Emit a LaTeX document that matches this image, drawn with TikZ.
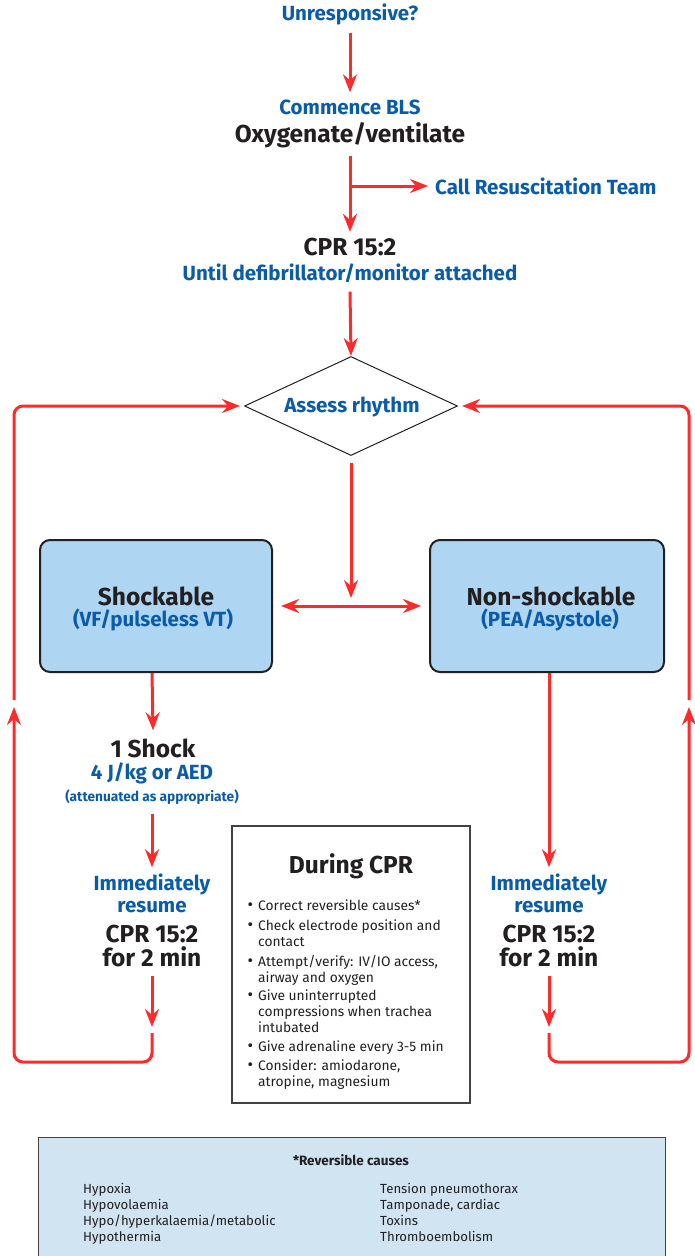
\documentclass[tikz,border=0pt]{standalone}
\usepackage{fontspec}
\setmainfont{Fira Sans}
\usetikzlibrary{arrows.meta,shapes.geometric}
\definecolor{flowred}{HTML}{FF2A2A}
\definecolor{flowblue}{HTML}{0B5CA8}
\definecolor{flowblack}{HTML}{231F20}
\definecolor{boxblue}{HTML}{AED5F2}
\definecolor{causeblue}{HTML}{D0E4F2}
\newcommand{\bluefont}{\bfseries\fontsize{20.5}{22}\selectfont}
\newcommand{\bigfont}{\bfseries\fontsize{24.5}{24}\selectfont}

\begin{document}
\begin{tikzpicture}[x=1pt, y=-1pt,
	>={Stealth[length=18pt, width=14pt, inset=6pt]},
	flow/.style={draw=flowred, line width=3pt},
	bluetxt/.style={text=flowblue, font=\bluefont, inner sep=0pt, align=center},
	bigtxt/.style={text=flowblack, font=\bigfont, inner sep=0pt, align=center},
	rhythmbox/.style={draw=flowblack, fill=boxblue, line width=2pt, rounded corners=10pt},
	itemtxt/.style={text=flowblack, font=\fontsize{13.8}{16}\selectfont, align=left, inner sep=0pt, anchor=north west}]
	\useasboundingbox (0,0) rectangle (695,1256);

	% top of the chart
	\node[bluetxt] (unresp) at (350,14) {Unresponsive?};
	\node[bluetxt] (bls) at (350,107) {Commence BLS};
	\node[bigtxt] (oxy) at (350,135) {Oxygenate/ventilate};
	\node[bluetxt, anchor=west] (team) at (435,186) {Call Resuscitation Team};
	\node[bigtxt] (cpr) at (350,247) {CPR 15:2};
	\node[bluetxt] (until) at (350,273) {Until defibrillator/monitor attached};

	\draw[flow, ->] ([yshift=-8pt]unresp.south) -- ([yshift=7pt]bls.north);
	\draw[flow, ->] ([yshift=-8pt]oxy.south) -- ([yshift=6pt]cpr.north);
	\draw[flow, ->] (351,186) -- ([xshift=-7pt]team.west);

	% assess rhythm
	\node[diamond, draw=flowblack, line width=1pt, minimum width=213pt, minimum height=99pt, inner sep=0pt] (rhythm) at (351,406) {};
	\node[bluetxt] at (352,407) {Assess rhythm};
	\draw[flow, ->] ([yshift=-9pt]until.south) -- (rhythm.north);

	\node[rhythmbox, minimum width=232pt, minimum height=132pt] (shock) at (156,606) {};
	\node[bigtxt] (shocktitle) at (156,596) {Shockable};
	\node[bluetxt] at (153,620) {(VF/pulseless VT)};
	\node[rhythmbox, minimum width=234pt, minimum height=132pt] (nonshock) at (547,606) {};
	\node[bigtxt] (nonshocktitle) at (551,596) {Non-shockable};
	\node[bluetxt] at (550,620) {(PEA/Asystole)};

	\coordinate (split) at (351,598);
	\draw[flow, ->] ([yshift=-7pt]rhythm.south) -- (split);
	\draw[flow, <->] ([xshift=8pt]shock.east) -- ([xshift=-8pt]nonshock.west);

	% shockable side
	\node[bigtxt] (oneshock) at (153,748) {1 Shock};
	\node[bluetxt] (joule) at (152,773) {4 J/kg or AED};
	\node[bluetxt, font=\bfseries\fontsize{13.7}{14}\selectfont] (atten) at (152,797) {(attenuated as appropriate)};
	\node[bluetxt] (resumeL) at (152,893) {Immediately\\resume};
	\node[bigtxt] (cprL) at (152,946) {CPR 15:2\\for 2 min};
	\coordinate (endL) at (152,1027);
	\coordinate (loopL) at (152,1033);
	\coordinate (upL) at (14,707);
	\coordinate (backL) at (14,700);

	\draw[flow, ->] (shock.south -| joule) -- ([yshift=8pt]oneshock.north);
	\draw[flow, ->] ([yshift=-9pt]atten.south) -- ([yshift=6pt]resumeL.north);
	\draw[flow, ->] ([yshift=-9pt]cprL.south) -- (endL);
	\draw[flow, ->, rounded corners=9pt] (loopL) -- (152,1062) -- (14,1062) -- (upL);
	\draw[flow, ->, rounded corners=9pt] (backL) -- (14,406) -- ([xshift=-4pt]rhythm.west);

	% non-shockable side
	\node[bluetxt] (resumeR) at (549,893) {Immediately\\resume};
	\node[bigtxt] (cprR) at (549,946) {CPR 15:2\\for 2 min};
	\coordinate (endR) at (549,1027);
	\coordinate (loopR) at (549,1033);
	\coordinate (upR) at (689,707);
	\coordinate (backR) at (689,700);

	\draw[flow, ->] (nonshock.south -| resumeR) -- ([yshift=6pt]resumeR.north);
	\draw[flow, ->] ([yshift=-9pt]cprR.south) -- (endR);
	\draw[flow, ->, rounded corners=9pt] (loopR) -- (549,1062) -- (689,1062) -- (upR);
	\draw[flow, ->, rounded corners=9pt] (backR) -- (689,406) -- ([xshift=4pt]rhythm.east);

	% during CPR
	\draw[draw=flowblack!85, line width=1.2pt] (232,826) rectangle (470,1103);
	\node[bigtxt] (during) at (351,866) {During CPR};
	\foreach \y/\txt [count=\i] in {
		900/Correct reversible causes*,
		920/{Check electrode position and\\contact},
		955/{Attempt/verify: IV/IO access,\\airway and oxygen},
		990/{Give uninterrupted\\compressions when trachea\\intubated},
		1041/Give adrenaline every 3-5 min,
		1060/{Consider: amiodarone,\\atropine, magnesium}}
		\node[itemtxt] (item\i) at (258,\y) {\llap{{\fontsize{17}{16}\selectfont\textbullet}\hspace{5pt}}\txt};

	% reversible causes
	\draw[draw=flowblack!85, fill=causeblue, line width=1pt] (38,1137) rectangle (665,1266);
	\node[text=flowblack, font=\bfseries\fontsize{13.5}{14}\selectfont] (causes) at (351,1160) {*Reversible causes};
	\node[itemtxt, font=\fontsize{13.2}{16}\selectfont] (hcauses) at (83,1183)
		{Hypoxia\\Hypovolaemia\\Hypo/hyperkalaemia/metabolic\\Hypothermia};
	\node[itemtxt, font=\fontsize{13.2}{16}\selectfont] (tcauses) at (380,1183)
		{Tension pneumothorax\\Tamponade, cardiac\\Toxins\\Thromboembolism};
\end{tikzpicture}
\end{document}
